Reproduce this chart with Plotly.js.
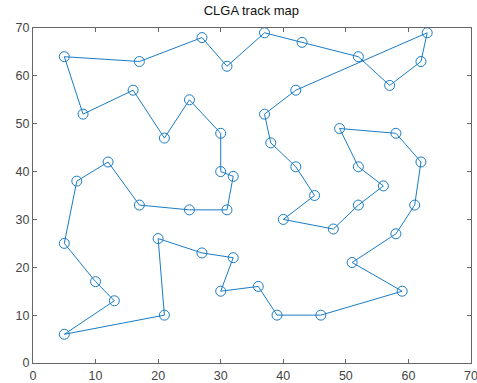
<!DOCTYPE html>
<html><head><meta charset="utf-8">
<script src="https://cdn.plot.ly/plotly-3.0.1.min.js"></script>
<style>html,body{margin:0;padding:0;background:#fff}</style>
</head><body><div id="chart" style="width:477px;height:383px"></div>
<script>
const routeX = [5,17,27,31,37,43,52,57,62,63,42,37,38,42,45,40,48,52,56,52,49,58,62,61,58,51,59,46,39,36,30,32,27,20,21,5,13,10,5,7,12,17,25,31,32,30,30,25,21,16,8,5];
const routeY = [64,63,68,62,69,67,64,58,63,69,57,52,46,41,35,30,28,33,37,41,49,48,42,33,27,21,15,10,10,16,15,22,23,26,10,6,13,17,25,38,42,33,32,32,39,40,48,55,47,57,52,64];
const tickVals = [0,10,20,30,40,50,60,70];
const titleText = 'CLGA track map';

const fontFam = 'Liberation Sans, Arial, sans-serif';
const axisCommon = {
  range:[0,70], tickvals:tickVals, ticks:'inside', ticklen:4, tickcolor:'#666',
  showline:true, linecolor:'#666', linewidth:1, mirror:'ticks', showgrid:false,
  zeroline:false, ticklabeloverflow:'allow',
  tickfont:{family:fontFam, size:12.5, color:'#444'}
};
Plotly.newPlot('chart', [
 {
  x: routeX, y: routeY, type:'scatter', mode:'lines',
  line:{color:'#1a7cc4', width:1}, hoverinfo:'skip'
 },
 {
  x: routeX.slice(0, -1), y: routeY.slice(0, -1), type:'scatter', mode:'markers',
  marker:{symbol:'circle-open', size:10, color:'#1a7cc4', line:{width:1}}
 }
], {
  width:477, height:383,
  margin:{l:33, r:6, t:28, b:20},
  paper_bgcolor:'#fff', plot_bgcolor:'#fff',
  showlegend:false,
  title:{text:titleText, x:0.527, xanchor:'center', y:0.985, yanchor:'top',
         font:{family:fontFam, size:13, color:'#111'}},
  xaxis:Object.assign({}, axisCommon, {ticklabelstandoff:1}),
  yaxis:Object.assign({}, axisCommon)
}, {staticPlot:true, displayModeBar:false});
</script></body></html>
